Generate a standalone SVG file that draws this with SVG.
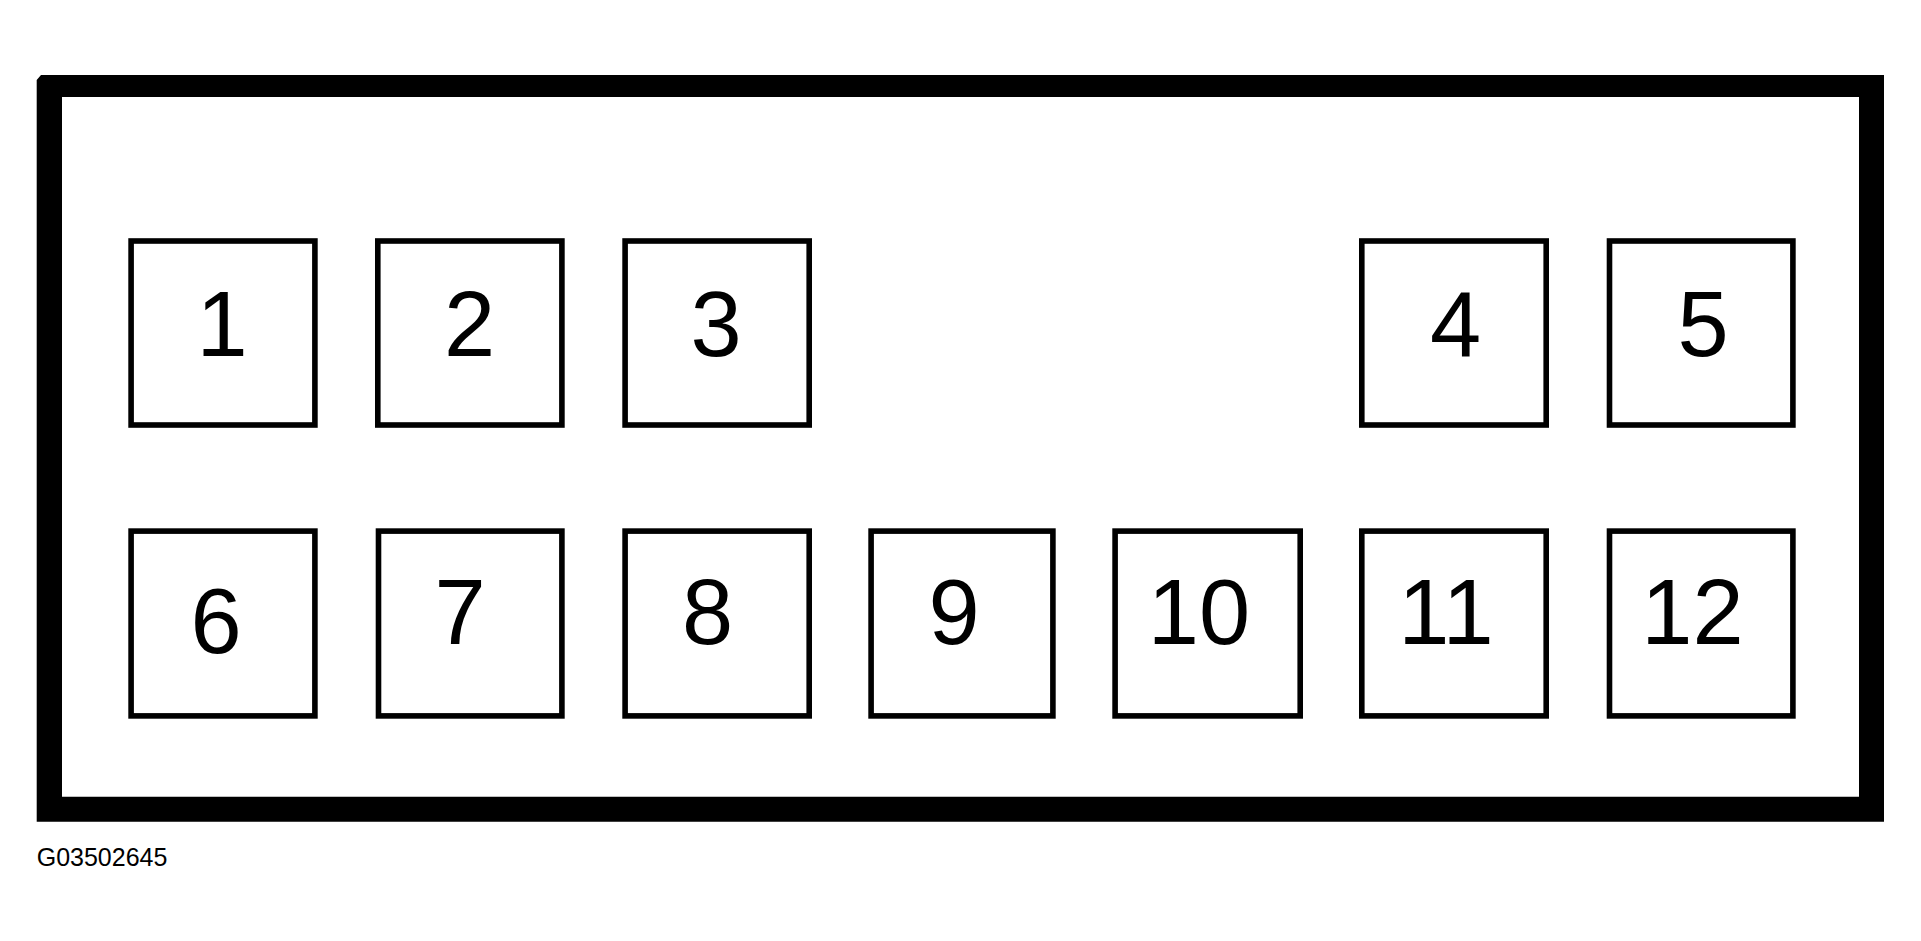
<svg xmlns="http://www.w3.org/2000/svg" width="1921" height="941" viewBox="0 0 1921 941">
<style>
.box{fill:#fff;stroke:#000;stroke-width:5.6}
.num{font-family:"Liberation Sans",Arial,sans-serif;font-size:92px;fill:#000;text-anchor:middle}
.code{font-family:"Liberation Sans",Arial,sans-serif;font-size:25px;fill:#000}
</style>
<rect width="1921" height="941" fill="#fff"/>
<g id="frame">
<path fill="#000" fill-rule="evenodd" d="M41,75 L1884,75 L1884,821.7 L36.7,821.7 L36.7,80 Z M62,97 L62,796.7 L1859,796.7 L1859,97 Z"/>
</g>
<g id="connectors"/>
<g id="pin1"><rect class="box" x="131.1" y="241" width="183.8" height="184"/><text class="num" x="222" y="356">1</text></g>
<g id="pin2"><rect class="box" x="377.8" y="241" width="184.1" height="184"/><text class="num" x="469.5" y="356">2</text></g>
<g id="pin3"><rect class="box" x="625.1" y="241" width="184.1" height="184"/><text class="num" x="716" y="356">3</text></g>
<g id="pin4"><rect class="box" x="1361.8" y="241" width="184.4" height="184"/><text class="num" x="1455.5" y="356">4</text></g>
<g id="pin5"><rect class="box" x="1609.5" y="241" width="183.4" height="184"/><text class="num" x="1703" y="356">5</text></g>
<g id="pin6"><rect class="box" x="131.1" y="531.1" width="183.8" height="184.8"/><text class="num" x="216" y="653">6</text></g>
<g id="pin7"><rect class="box" x="378.5" y="531.1" width="183.4" height="184.8"/><text class="num" x="460" y="644">7</text></g>
<g id="pin8"><rect class="box" x="625.1" y="531.1" width="184.1" height="184.8"/><text class="num" x="707.5" y="643.5">8</text></g>
<g id="pin9"><rect class="box" x="871.1" y="531.1" width="181.8" height="184.8"/><text class="num" x="954" y="643.5">9</text></g>
<g id="pin10"><rect class="box" x="1115.1" y="531.1" width="185.1" height="184.8"/><text class="num" x="1199" y="644">10</text></g>
<g id="pin11"><rect class="box" x="1361.8" y="531.1" width="184.4" height="184.8"/><text class="num" x="1446" y="644">11</text></g>
<g id="pin12"><rect class="box" x="1609.5" y="531.1" width="183.4" height="184.8"/><text class="num" x="1692.5" y="644">12</text></g>
<text class="code" x="36.7" y="865.7">G03502645</text>
</svg>
